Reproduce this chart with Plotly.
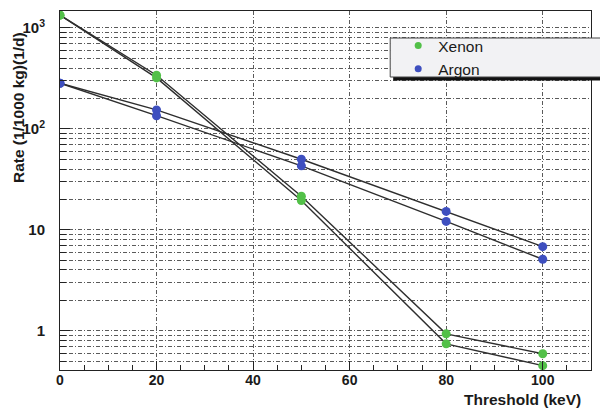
import plotly.graph_objects as go

# ---- data ----
threshold = [0, 20, 50, 80, 100]
xenon_high = [1340, 340, 21.5, 0.93, 0.59]
xenon_low = [1340, 320, 19.5, 0.74, 0.45]
argon_high = [283, 154, 50, 15.2, 6.8]
argon_low = [283, 135, 43, 12.1, 5.1]

series_names = ["Xenon", "Argon"]

y_major_vals = [1, 10, 100, 1000]
y_major_text = ["1", "10", "10<sup>2</sup>", "10<sup>3</sup>"]
y_minor_vals = [m * d for d in (0.1, 1, 10, 100) for m in range(2, 10)]
y_minor_vals = [v for v in y_minor_vals if v >= 0.4]
x_major_vals = [0, 20, 40, 60, 80, 100]

GREEN = "#52c048"
BLUE = "#3e4fbf"
LINE = "#2e2e2e"
GRID = "#5a5a5a"
GRID_DASH = "4px,2px,1px,2px"
FONT = "Liberation Sans, Arial, Helvetica, sans-serif"

# plot-area geometry in pixels
W, H = 600, 408
L, R, T, B = 59.5, 591, 11, 370


def px_x(p):
    return (p - L) / (R - L)


def px_y(p):
    return (B - p) / (B - T)


fig = go.Figure()

for ys in (xenon_high, xenon_low, argon_high, argon_low):
    fig.add_trace(go.Scatter(x=threshold, y=ys, mode="lines",
                             line=dict(color=LINE, width=1.4),
                             showlegend=False, hoverinfo="skip"))

fig.add_trace(go.Scatter(x=threshold + threshold, y=xenon_high + xenon_low,
                         mode="markers", name=series_names[0], legendgroup="xe",
                         showlegend=False,
                         marker=dict(color=GREEN, size=9)))
fig.add_trace(go.Scatter(x=threshold + threshold, y=argon_high + argon_low,
                         mode="markers", name=series_names[1], legendgroup="ar",
                         showlegend=False,
                         marker=dict(color=BLUE, size=9)))
# legend entries (smaller symbols, as in the reference legend)
fig.add_trace(go.Scatter(x=[None], y=[None], mode="markers", name=series_names[0],
                         legendgroup="xe", marker=dict(color=GREEN, size=7)))
fig.add_trace(go.Scatter(x=[None], y=[None], mode="markers", name=series_names[1],
                         legendgroup="ar", marker=dict(color=BLUE, size=7)))

fig.update_layout(
    width=W, height=H,
    margin=dict(l=L, r=W - R, t=T, b=H - B, autoexpand=False),
    paper_bgcolor="white", plot_bgcolor="white",
    font=dict(family=FONT, color="#1a1a1a"),
    showlegend=True,
    legend=dict(x=px_x(390), y=px_y(29), xanchor="left", yanchor="top",
                bgcolor="rgba(0,0,0,0)", borderwidth=0,
                font=dict(family=FONT, size=15.5, color="#1a1a1a"),
                indentation=8, itemsizing="trace", tracegroupgap=0),
    xaxis=dict(range=[0, 110], tickmode="array", tickvals=x_major_vals,
               ticks="inside", ticklen=9, tickcolor="#222",
               showline=True, linecolor="#222", linewidth=1, mirror=True,
               showgrid=True, gridcolor=GRID, griddash=GRID_DASH, gridwidth=1,
               zeroline=False, ticklabelstandoff=-3,
               tickfont=dict(family=FONT, size=14, color="#1a1a1a", weight="bold"),
               minor=dict(dtick=5, ticks="inside", ticklen=5, tickcolor="#222",
                          showgrid=False)),
    yaxis=dict(type="log", range=[-0.39, 3.168],
               tickmode="array", tickvals=y_major_vals, ticktext=y_major_text,
               ticks="inside", ticklen=10, tickcolor="#222",
               showline=True, linecolor="#222", linewidth=1, mirror=True,
               showgrid=True, gridcolor=GRID, griddash=GRID_DASH, gridwidth=1,
               zeroline=False, ticklabelstandoff=11,
               tickfont=dict(family=FONT, size=15, color="#1a1a1a", weight="bold"),
               minor=dict(tickmode="array", tickvals=y_minor_vals,
                          ticks="inside", ticklen=6, tickcolor="#222",
                          showgrid=True, gridcolor=GRID, griddash=GRID_DASH,
                          gridwidth=1)),
    shapes=[
        dict(type="rect", xref="paper", yref="paper",
             x0=px_x(393), x1=px_x(606), y0=px_y(80.5), y1=px_y(41),
             fillcolor="#111", line=dict(width=0), layer="above"),
        dict(type="rect", xref="paper", yref="paper",
             x0=px_x(390), x1=px_x(606), y0=px_y(77), y1=px_y(38),
             fillcolor="#f2f2f4", line=dict(color="#444", width=1), layer="above"),
    ],
    annotations=[
        dict(text="<b>Rate (1/1000 kg)(1/d)</b>", textangle=-90,
             xref="paper", yref="paper", x=px_x(18), y=px_y(107.5),
             xanchor="center", yanchor="middle", showarrow=False,
             font=dict(family=FONT, size=15.5, color="#1a1a1a")),
        dict(text="<b>Threshold (keV)</b>",
             xref="paper", yref="paper", x=px_x(583), y=px_y(399),
             xanchor="right", yanchor="middle", showarrow=False,
             font=dict(family=FONT, size=15.5, color="#1a1a1a")),
    ],
)

fig.write_html("out.html")
